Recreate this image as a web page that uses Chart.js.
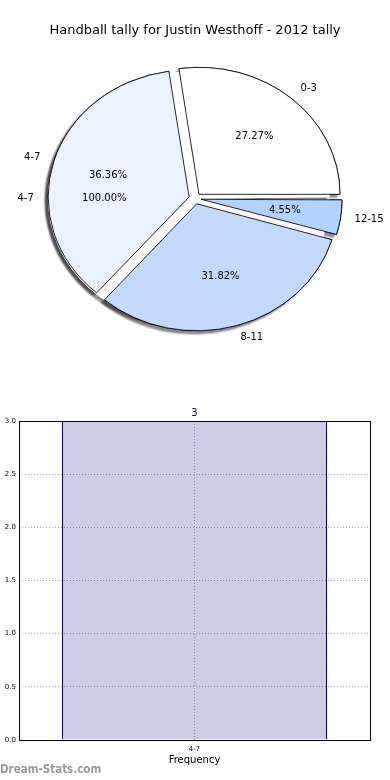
<!DOCTYPE html>
<html>
<head>
<meta charset="utf-8">
<script src="https://cdn.jsdelivr.net/npm/chart.js@4.4.0/dist/chart.umd.min.js"></script>
<style>
body{margin:0;background:#fff;width:390px;height:780px;position:relative;overflow:hidden;font-family:"DejaVu Sans",sans-serif;}
#title{position:absolute;left:0;top:22px;width:390px;text-align:center;font-size:13px;line-height:16px;color:#000;z-index:3;}
#pie{position:absolute;left:0;top:0;z-index:1;}
#bar{position:absolute;left:0;top:380px;z-index:2;}
#mark{position:absolute;left:0;top:762px;font-family:"DejaVu Sans Condensed","DejaVu Sans",sans-serif;font-size:11.5px;line-height:14px;font-weight:bold;color:#9a9a9a;z-index:3;}
</style>
</head>
<body>
<div id="title">Handball tally for Justin Westhoff - 2012 tally</div>
<canvas id="pie" width="390" height="397"></canvas>
<canvas id="bar" width="390" height="400"></canvas>
<div id="mark">Dream-Stats.com</div>
<script>
// pie: tally per age group
var ageGroups = ['0-3', '4-7', '8-11', '12-15'];
var tally = [6, 8, 7, 1];
var sliceColors = ['#ffffff', '#eaf1ff', '#c4d9ff', '#b1d3ff'];
// second pie drawn underneath (one group, 100%)
var allGroups = ['4-7'];
var allTally = [3];
// bar chart
var barGroups = ['4-7'];
var barTally = [3];
var yTicks = [0, 0.5, 1, 1.5, 2, 2.5, 3];

var PIE_R = 127;     // radius (vertical)
var SX = 1.11;       // pie is a bit wider than tall
var EXPLODE = 22;    // chart.js divides offset by 4

Chart.defaults.font.family = '"DejaVu Sans", sans-serif';
Chart.defaults.color = '#000';

function pct(v, arr){
    var s = arr.reduce(function(a, b){ return a + b; }, 0);
    return (v / s * 100).toFixed(2) + '%';
}

var pieLook = {
    id: 'pieLook',
    afterDatasetUpdate: function(chart, args){
        args.meta.data.forEach(function(el){
            var shift = EXPLODE / 4;
            el.outerRadius = PIE_R - shift * (1 - Math.sin(Math.min(Math.PI, el.circumference)));
            el.innerRadius = 0;
        });
    },
    beforeDatasetsDraw: function(chart){
        var ctx = chart.ctx, a = chart.chartArea, cx = (a.left + a.right) / 2;
        ctx.save();
        ctx.translate(cx, 0); ctx.scale(SX, 1); ctx.translate(-cx, 0);
        ctx.save();
        ctx.shadowColor = 'rgba(0,0,0,0.45)';
        ctx.shadowOffsetX = -3;
        ctx.shadowOffsetY = 3;
        ctx.shadowBlur = 2;
        [1, 0].forEach(function(i){
            chart.getDatasetMeta(i).data.forEach(function(el){ el.draw(ctx); });
        });
        ctx.restore();
    },
    afterDatasetsDraw: function(chart){
        var ctx = chart.ctx;
        ctx.restore();
        ctx.save();
        ctx.font = '10px "DejaVu Sans"';
        ctx.fillStyle = '#000';
        ctx.textBaseline = 'middle';
        function put(el, text, f, centred){
            var h = (el.startAngle + el.endAngle) / 2;
            var d = EXPLODE / 4 + f * PIE_R;
            var x = el.x + Math.cos(h) * d * SX;
            var y = el.y + Math.sin(h) * d;
            ctx.textAlign = centred ? 'center' : (Math.cos(h) > 0 ? 'left' : 'right');
            ctx.fillText(text, x, y);
        }
        var m1 = chart.getDatasetMeta(1);
        m1.data.forEach(function(el, i){
            put(el, allGroups[i], 1.1, false);
            put(el, pct(allTally[i], allTally), 0.6, true);
        });
        var m0 = chart.getDatasetMeta(0);
        var vals = chart.data.datasets[0].data;
        m0.data.forEach(function(el, i){
            put(el, chart.data.labels[i], 1.1, false);
            put(el, pct(vals[i], vals), 0.6, true);
        });
        ctx.restore();
    }
};

new Chart(document.getElementById('pie'), {
    type: 'pie',
    data: {
        labels: ageGroups.slice().reverse(),
        datasets: [
            {
                data: tally.slice().reverse(),
                backgroundColor: sliceColors.slice().reverse(),
                borderColor: '#000',
                borderWidth: 0.8,
                offset: EXPLODE,
                radius: PIE_R,
                rotation: 90
            },
            {
                data: allTally,
                backgroundColor: '#ffffff',
                borderWidth: 0,
                offset: EXPLODE,
                radius: PIE_R,
                rotation: 90
            }
        ]
    },
    options: {
        responsive: false,
        animation: false,
        events: [],
        rotation: 90,
        layout: { padding: 0 },
        plugins: { legend: { display: false }, tooltip: { enabled: false } }
    },
    plugins: [pieLook]
});

var barExtras = {
    id: 'barExtras',
    afterDatasetsDraw: function(chart){
        var ctx = chart.ctx, a = chart.chartArea;
        ctx.save();
        ctx.strokeStyle = '#000';
        ctx.lineWidth = 1;
        ctx.strokeRect(a.left + 0.5, a.top + 0.5, a.right - a.left, a.bottom - a.top);
        ctx.font = '10px "DejaVu Sans"';
        ctx.fillStyle = '#000080';
        ctx.textAlign = 'center';
        ctx.textBaseline = 'alphabetic';
        chart.getDatasetMeta(0).data.forEach(function(el, i){
            ctx.fillText(String(barTally[i]), el.x, el.y - 5);
        });
        ctx.restore();
    }
};

new Chart(document.getElementById('bar'), {
    type: 'bar',
    data: {
        labels: barGroups,
        datasets: [{
            data: barTally,
            backgroundColor: 'rgba(0,0,128,0.2)',
            borderColor: '#000080',
            borderWidth: { left: 1, right: 1, top: 0, bottom: 0 },
            barPercentage: 0.755,
            categoryPercentage: 1
        }]
    },
    options: {
        responsive: false,
        animation: false,
        events: [],
        layout: { padding: { top: 41, right: 20, left: 0, bottom: 0 } },
        plugins: { legend: { display: false }, tooltip: { enabled: false } },
        scales: {
            x: {
                grid: { offset: false, color: '#a8a8a8', drawTicks: false },
                border: { display: false, dash: [1, 2] },
                ticks: { font: { size: 7 }, padding: 5, color: '#000' },
                title: { display: true, text: 'Frequency', font: { size: 10 }, color: '#000', padding: { top: 0, bottom: 14 } },
                afterFit: function(s){ s.height = 40; }
            },
            y: {
                min: 0,
                max: 3,
                grid: { color: '#a8a8a8', drawTicks: false },
                border: { display: false, dash: [1, 2] },
                ticks: {
                    font: { size: 7 }, padding: 3, color: '#000',
                    callback: function(v){ return Number(v).toFixed(1); }
                },
                afterBuildTicks: function(s){
                    s.ticks = yTicks.map(function(v){ return { value: v }; });
                },
                afterFit: function(s){ s.width = 19; }
            }
        }
    },
    plugins: [barExtras]
});
</script>
</body>
</html>
